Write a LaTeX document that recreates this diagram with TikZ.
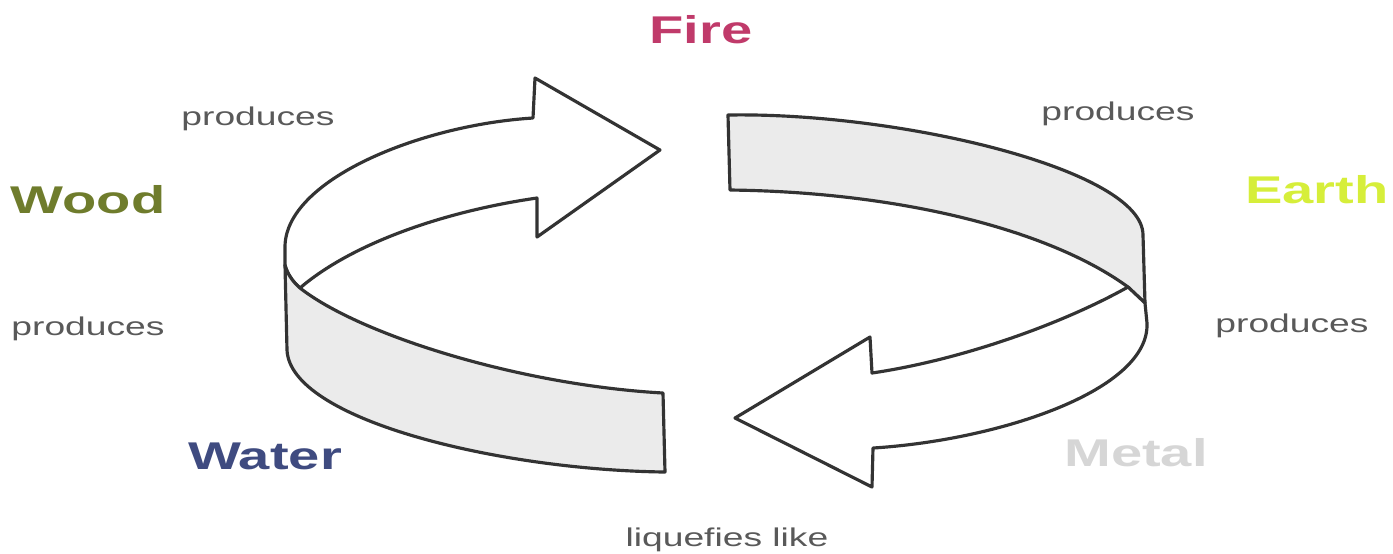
\documentclass[tikz,border=0pt]{standalone}
\usepackage{fontspec}
\setmainfont{Liberation Sans}[FakeStretch=1.45]

\begin{document}
\begin{tikzpicture}[x=0.01cm,y=-0.01cm]
  \definecolor{firered}{HTML}{C03A6A}
  \definecolor{woodgreen}{HTML}{6F7C2C}
  \definecolor{earthlime}{HTML}{D6EE3A}
  \definecolor{metalgrey}{HTML}{D6D6D6}
  \definecolor{waterblue}{HTML}{3F4B80}
  \definecolor{shade}{HTML}{EBEBEB}
  \useasboundingbox (0,0) rectangle (1393,553);

  \tikzset{ribbon/.style={draw=black!80,line width=.9pt,line join=round},
           element/.style={font=\bfseries\fontsize{11}{13}\selectfont,anchor=base,inner sep=0pt},
           relation/.style={font=\fontsize{7.3}{9}\selectfont,text=black!65,anchor=base,inner sep=0pt}}

  % left half: the arrow up to Fire, the grey band underneath
  \filldraw[ribbon,fill=white] (533,118) -- (535,78) -- (660,150) -- (537,237) -- (537,198)
    .. controls (440,212) and (350,245) .. (300,288)
    .. controls (292,281) and (287,273) .. (285,265) -- (285,247)
    .. controls (285,180) and (420,125) .. (533,118) -- cycle;
  \filldraw[ribbon,fill=shade] (285,265) -- (287,350)
    .. controls (290,420) and (500,470) .. (665,472) -- (663,393)
    .. controls (520,385) and (360,335) .. (300,288)
    .. controls (292,281) and (287,273) .. (285,265) -- cycle;

  % right half: grey band on top, the arrow back to Water
  \filldraw[ribbon,fill=shade] (730,190) -- (728,115)
    .. controls (900,112) and (1143,170) .. (1143,235) -- (1145,303) -- (1128,287)
    .. controls (1050,230) and (900,192) .. (730,190) -- cycle;
  \filldraw[ribbon,fill=white] (870,337) -- (872,373)
    .. controls (960,360) and (1060,325) .. (1128,287) -- (1145,303) -- (1147,323)
    .. controls (1150,390) and (1000,440) .. (873,448)
    -- (872,487) -- (735,418) -- cycle;

  \node[element,text=firered] (fire) at (701,43) {Fire};
  \node[element,text=woodgreen] (wood) at (88,213) {Wood};
  \node[element,text=earthlime] (earth) at (1317,203) {Earth};
  \node[element,text=metalgrey] (metal) at (1136,466) {Metal};
  \node[element,text=waterblue] (water) at (265,469) {Water};

  \node[relation] (woodfire) at (258,125) {produces};
  \node[relation] (fireearth) at (1118,120) {produces};
  \node[relation] (waterwood) at (88,335) {produces};
  \node[relation] (earthmetal) at (1292,332) {produces};
  \node[relation] (metalwater) at (727,546) {liquefies like};
\end{tikzpicture}
\end{document}
